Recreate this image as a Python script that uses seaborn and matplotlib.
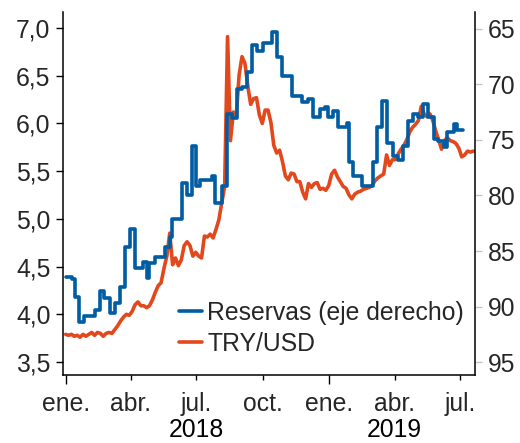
import numpy as np
import pandas as pd
import matplotlib
matplotlib.use("Agg")
import matplotlib.pyplot as plt
import matplotlib.dates as mdates
from matplotlib.ticker import FuncFormatter, FixedLocator, FixedFormatter
from matplotlib.lines import Line2D
import seaborn as sns

# ---------------- data ----------------
# TRY/USD (left axis), sampled every 4 days from 2018-01-01
try_start = "2018-01-01"
try_values = [
    3.79, 3.78, 3.79, 3.77, 3.78, 3.76, 3.79, 3.77, 3.79, 3.81, 3.78, 3.81, 3.80, 3.77, 3.80, 3.81, 3.80,
    3.84, 3.88, 3.93, 3.97, 4.00, 3.99, 4.03, 4.10, 4.13, 4.09, 4.09, 4.07, 4.09, 4.15, 4.23, 4.30, 4.33,
    4.48, 4.61, 4.85, 4.52, 4.59, 4.51, 4.57,
    4.72, 4.76, 4.72, 4.61, 4.65, 4.61, 4.59, 4.82, 4.81, 4.84, 4.80, 4.89, 4.99, 5.17, 5.34,
    6.91, 5.82, 6.12, 6.07, 6.51, 6.70, 6.63, 6.39, 6.20, 6.26, 6.27, 6.09, 6.00, 6.14, 6.14, 6.01,
    5.77, 5.69, 5.72, 5.60, 5.45, 5.41, 5.48, 5.47, 5.39, 5.39, 5.28, 5.21, 5.37, 5.33, 5.37, 5.38, 5.31, 5.32, 5.30, 5.35,
    5.47, 5.51, 5.44, 5.39, 5.34, 5.32, 5.25, 5.21, 5.26, 5.28, 5.29, 5.31, 5.32, 5.33, 5.35, 5.40, 5.43, 5.45, 5.47,
    5.67, 5.56, 5.62, 5.62, 5.68, 5.73, 5.77, 5.83, 5.91, 5.96, 5.99, 6.03, 6.18, 6.10, 6.07, 6.10, 6.03, 5.92, 5.83,
    5.73, 5.82, 5.85, 5.82, 5.81, 5.79, 5.74, 5.65, 5.67, 5.71, 5.70, 5.71,
]
try_dates = pd.date_range(try_start, periods=len(try_values), freq="4D")

# Reserves (right axis, inverted) - step series: change dates and levels
res_dates = pd.to_datetime([
    "2018-01-01", "2018-01-10", "2018-01-14", "2018-01-19", "2018-01-26", "2018-02-10", "2018-02-17",
    "2018-02-23", "2018-03-03", "2018-03-10", "2018-03-17", "2018-03-24", "2018-03-31", "2018-04-07",
    "2018-04-18", "2018-04-23", "2018-04-27", "2018-05-04", "2018-05-18", "2018-05-25", "2018-05-28",
    "2018-06-11", "2018-06-18", "2018-06-25", "2018-06-30", "2018-07-06", "2018-07-22", "2018-07-26",
    "2018-08-05", "2018-08-12", "2018-08-19", "2018-08-26", "2018-09-02", "2018-09-09", "2018-09-16",
    "2018-09-23", "2018-10-01", "2018-10-13", "2018-10-20", "2018-10-27", "2018-11-10", "2018-11-24",
    "2018-12-02", "2018-12-09", "2018-12-19", "2018-12-26", "2018-12-30", "2019-01-06", "2019-01-13",
    "2019-01-25", "2019-01-28", "2019-02-03", "2019-02-15", "2019-03-02", "2019-03-08", "2019-03-15",
    "2019-03-22", "2019-03-30", "2019-04-06", "2019-04-13", "2019-04-20", "2019-04-27", "2019-05-04",
    "2019-05-11", "2019-05-18", "2019-05-25", "2019-05-31", "2019-06-08", "2019-06-13", "2019-06-22",
    "2019-06-27", "2019-07-05",
])
res_values = [
    87.3, 87.5, 89.1, 91.4, 90.9, 90.3, 88.6,
    89.2, 90.6, 89.7, 88.2, 84.6, 83.0, 86.5,
    86.0, 87.4, 86.1, 85.5, 84.6, 83.7, 82.1,
    78.9, 80.0, 75.5, 79.1, 78.6, 78.2, 80.7,
    79.1, 72.7, 73.0, 70.4, 70.2, 68.9, 66.4,
    67.0, 66.3, 65.3, 67.5, 69.2, 71.0, 71.6,
    71.3, 72.9, 72.2, 72.0, 72.9, 72.4, 73.8,
    73.5, 77.0, 78.2, 79.1, 77.0, 73.8, 71.5,
    75.3, 76.4, 76.8, 75.5, 73.3, 72.7, 72.9,
    71.8, 72.9, 74.9, 75.1, 75.6, 74.3, 73.6,
    74.1, 74.1,
]

left_ticks = [3.5, 4.0, 4.5, 5.0, 5.5, 6.0, 6.5, 7.0]
right_ticks = [65, 70, 75, 80, 85, 90, 95]
year_tick_dates = ["2018-01-01", "2019-01-01"]
year_tick_labels = ["ene.", "ene."]
quarter_tick_dates = ["2018-04-01", "2018-07-01", "2018-10-01", "2019-04-01", "2019-07-01"]
quarter_tick_labels = ["abr.", "jul.", "oct.", "abr.", "jul."]
year_label_dates = ["2018-07-01", "2019-04-01"]
year_labels = ["2018", "2019"]
labels = ["Reservas (eje derecho)", "TRY/USD"]

BLUE = "#005CA3"
ORANGE = "#E2481C"

# ---------------- style ----------------
sns.set_style("ticks")
plt.rcParams["font.family"] = ["Liberation Sans", "DejaVu Sans"]
FS = 17.8

fig = plt.figure(figsize=(5.2, 4.43), dpi=100)
ax = fig.add_axes([63 / 520, 68 / 443, 412 / 520, 363 / 443])
ax2 = ax.twinx()

sns.lineplot(x=try_dates, y=try_values, ax=ax, color=ORANGE, lw=2.6, legend=False)
sns.lineplot(x=res_dates, y=res_values, ax=ax2, color=BLUE, lw=2.6,
             drawstyle="steps-post", legend=False)

# x axis
ax.set_xlim(pd.Timestamp("2017-12-28 08:00"), pd.Timestamp("2019-07-21 08:00"))
ax.xaxis.set_major_locator(FixedLocator(mdates.date2num(pd.to_datetime(year_tick_dates))))
ax.xaxis.set_major_formatter(FixedFormatter(year_tick_labels))
ax.xaxis.set_minor_locator(FixedLocator(mdates.date2num(pd.to_datetime(quarter_tick_dates))))
ax.xaxis.set_minor_formatter(FixedFormatter(quarter_tick_labels))
ax.tick_params(axis="x", which="major", length=6.5, width=1.0, pad=5.5, labelsize=FS, color="black")
ax.tick_params(axis="x", which="minor", length=3.6, width=1.0, pad=8.4, labelsize=FS, color="black")
for d, t in zip(pd.to_datetime(year_label_dates), year_labels):
    ax.text(d, -0.1705, t, transform=ax.get_xaxis_transform(), ha="center", va="baseline",
            fontsize=FS, color="black")

# left y axis
ax.set_ylim(3.364, 7.168)
ax.set_yticks(left_ticks)
ax.yaxis.set_major_formatter(FuncFormatter(lambda v, _: f"{v:.1f}".replace(".", ",")))
ax.tick_params(axis="y", length=5, width=1.0, pad=4, labelsize=FS, color="black")
ax.set_ylabel("")
ax.set_xlabel("")

# right y axis (inverted)
ax2.set_ylim(96.17, 63.47)
ax2.set_yticks(right_ticks)
ax2.tick_params(axis="y", length=5, width=1.0, pad=4.5, labelsize=FS, color="#c4c4c4")
ax2.set_ylabel("")

for a in (ax, ax2):
    a.spines["top"].set_visible(False)
    for s in a.spines.values():
        s.set_linewidth(1.1)
        s.set_color("black")
ax.spines["right"].set_visible(False)
ax2.spines["left"].set_visible(False)
ax2.spines["bottom"].set_visible(False)

handles = [Line2D([], [], color=BLUE, lw=2.6), Line2D([], [], color=ORANGE, lw=2.6)]
ax2.legend(handles, labels, loc="lower right", bbox_to_anchor=(0.973, 0.052),
           frameon=False, fontsize=FS, handlelength=0.95, handletextpad=0.2,
           labelspacing=0.3, borderpad=0, borderaxespad=0)

fig.savefig("out.png", dpi=100)
